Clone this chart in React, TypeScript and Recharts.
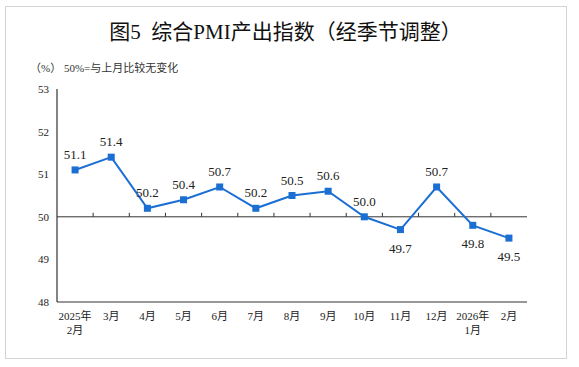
import React from "react";
import {
  LineChart,
  Line,
  XAxis,
  YAxis,
  ReferenceLine,
  LabelList,
} from "recharts";

// 月份（换行用 \n）
const MONTHS = [
  "2025年\n2月",
  "3月",
  "4月",
  "5月",
  "6月",
  "7月",
  "8月",
  "9月",
  "10月",
  "11月",
  "12月",
  "2026年\n1月",
  "2月",
];

// 综合PMI产出指数
const PMI_VALUES = [51.1, 51.4, 50.2, 50.4, 50.7, 50.2, 50.5, 50.6, 50.0, 49.7, 50.7, 49.8, 49.5];

// 数据标签位置
const LABEL_POS = ["up", "up", "up", "up", "up", "up", "up", "up", "up", "down", "up", "down", "down"];

const Y_TICKS = [48, 49, 50, 51, 52, 53];

const data = MONTHS.map((m, i) => ({ month: m, value: PMI_VALUES[i] }));

const SERIF = '"Liberation Serif", "Noto Sans CJK SC", serif';
const LINE_COLOR = "#1b6fd3";

function MonthTick(props: any) {
  const { x, y, payload } = props;
  const lines = String(payload.value).split("\n");
  return (
    <text x={x} y={y + 10} textAnchor="middle" fontSize={11} fill="#222" fontFamily={SERIF}>
      {lines.map((l, i) => (
        <tspan key={i} x={x} dy={i === 0 ? 0 : 14}>
          {l}
        </tspan>
      ))}
    </text>
  );
}

function ValueLabel(props: any) {
  const { x, y, value, index } = props;
  const below = LABEL_POS[index] === "down";
  return (
    <text
      x={x}
      y={below ? y + 23 : y - 11}
      textAnchor="middle"
      fontSize={13}
      fill="#222"
      fontFamily={SERIF}
    >
      {Number(value).toFixed(1)}
    </text>
  );
}

// 50 基准线 + 分类边界刻度
function BaseLine(props: any) {
  const { x1, y1, x2, y2 } = props;
  const n = MONTHS.length;
  const step = (x2 - x1) / n;
  const ticks = [];
  for (let i = 1; i < n; i++) {
    const tx = x1 + step * i;
    ticks.push(<line key={i} x1={tx} y1={y1} x2={tx} y2={y1 - 4} stroke="#333" strokeWidth={1} />);
  }
  return (
    <g>
      <line x1={x1} y1={y1} x2={x2} y2={y2} stroke="#333" strokeWidth={1} />
      {ticks}
    </g>
  );
}

function SquareDot(props: any) {
  const { cx, cy } = props;
  return <rect x={cx - 3.5} y={cy - 3.5} width={7} height={7} fill={LINE_COLOR} />;
}

export default function App() {
  return (
    <div
      style={{
        position: "absolute",
        left: 0,
        top: 0,
        width: 579,
        height: 367,
        background: "#fff",
      }}
    >
      <div
        style={{
          position: "absolute",
          left: 5,
          top: 6,
          width: 560,
          height: 351,
          border: "1px solid #d4d4d4",
        }}
      />
      <div
        style={{
          position: "absolute",
          left: 0,
          top: 18,
          width: 571,
          textAlign: "center",
          fontSize: 21,
          fontFamily: SERIF,
          color: "#111",
          lineHeight: "28px",
        }}
      >
        图5&nbsp;&nbsp;综合PMI产出指数（经季节调整）
      </div>
      <div
        style={{
          position: "absolute",
          left: 30,
          top: 61,
          fontSize: 11,
          fontFamily: SERIF,
          color: "#333",
          lineHeight: "14px",
        }}
      >
        （%） 50%=与上月比较无变化
      </div>
      <div style={{ position: "absolute", left: 0, top: 0 }}>
        <LineChart
          width={579}
          height={367}
          data={data}
          margin={{ top: 89, right: 52, bottom: 35, left: 27 }}
        >
          <XAxis
            dataKey="month"
            scale="band"
            interval={0}
            height={30}
            axisLine={{ stroke: "#333", strokeWidth: 1.2 }}
            tickLine={false}
            tick={<MonthTick />}
          />
          <XAxis
            xAxisId="top"
            dataKey="month"
            scale="band"
            orientation="top"
            height={0}
            tick={false}
            tickLine={false}
            axisLine={{ stroke: "#8a8a8a", strokeWidth: 2 }}
          />
          <YAxis
            domain={[48, 53]}
            ticks={Y_TICKS}
            width={30}
            axisLine={{ stroke: "#333", strokeWidth: 1.2 }}
            tickLine={false}
            tick={{ fontSize: 11, fill: "#222", fontFamily: SERIF }}
          />
          <YAxis
            yAxisId="right"
            orientation="right"
            domain={[48, 53]}
            width={0}
            tick={false}
            tickLine={false}
            axisLine={{ stroke: "#8a8a8a", strokeWidth: 2 }}
          />
          <ReferenceLine y={50} shape={<BaseLine />} />
          <Line
            dataKey="value"
            stroke={LINE_COLOR}
            strokeWidth={2}
            dot={<SquareDot />}
            activeDot={false}
            isAnimationActive={false}
          >
            <LabelList dataKey="value" content={<ValueLabel />} />
          </Line>
        </LineChart>
      </div>
    </div>
  );
}
